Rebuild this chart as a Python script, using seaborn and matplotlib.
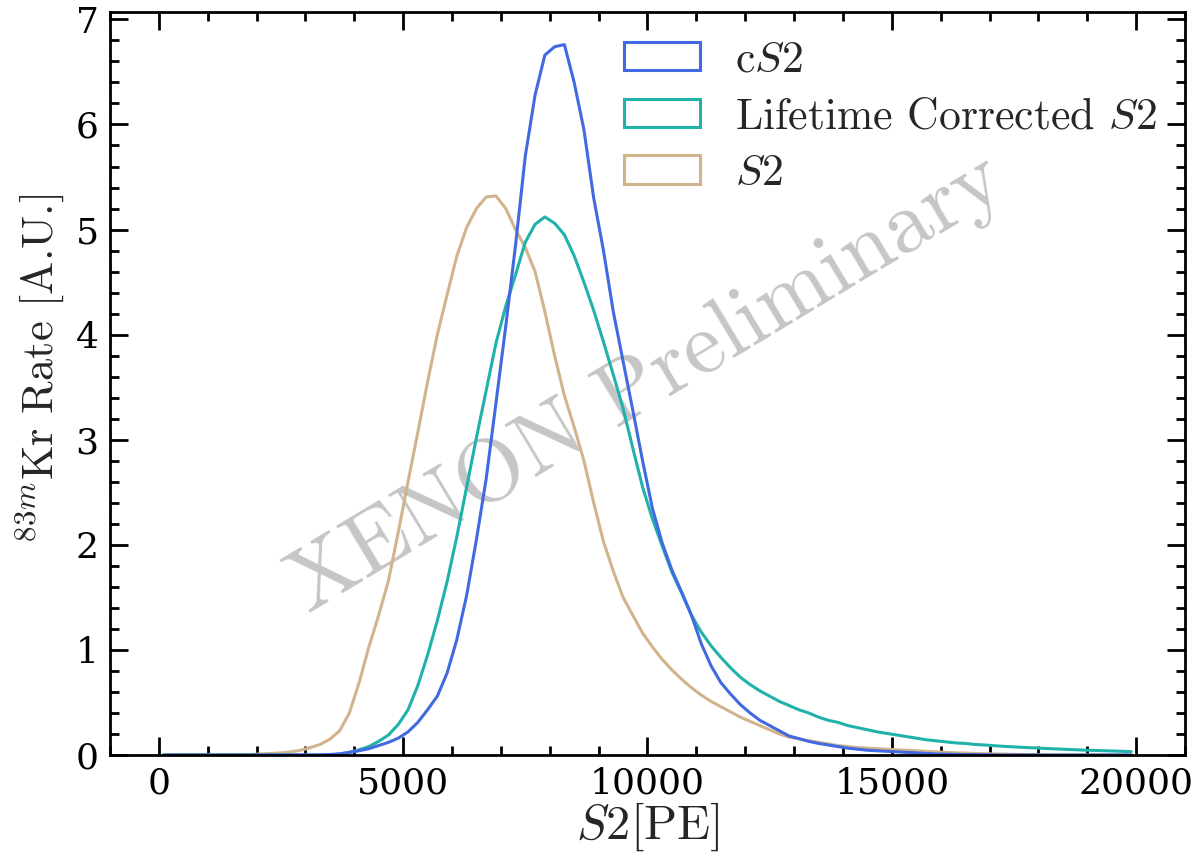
import numpy as np
import pandas as pd
import matplotlib
matplotlib.use("Agg")
import matplotlib.pyplot as plt
from matplotlib.ticker import MultipleLocator
from matplotlib.patches import Patch
import seaborn as sns

# ---------------- data ----------------
bin_width = 200
edges = np.arange(0, 20001, bin_width)
centers = edges[:-1] + bin_width / 2

labels = ["c$S2$", "Lifetime Corrected $S2$", "$S2$"]
colors = ["#4169E1", "#20B2AA", "#D2B48C"]

# cS2 (corrected S2)
cs2 = [0] * 17 + [
    0.005, 0.01, 0.025, 0.04, 0.06, 0.09, 0.12, 0.16, 0.22, 0.31,
    0.43, 0.56, 0.78, 1.10, 1.52, 2.05, 2.63, 3.35, 4.08, 4.85,
    5.70, 6.28, 6.66, 6.74, 6.76, 6.40, 5.95, 5.30, 4.80, 4.22,
    3.75, 3.28, 2.80, 2.35, 2.02, 1.76,
    1.55, 1.33, 1.06, 0.85, 0.69, 0.58, 0.48, 0.40, 0.33, 0.28,
    0.23, 0.18, 0.155, 0.13, 0.11, 0.095, 0.08, 0.065, 0.055, 0.045,
    0.04, 0.035, 0.03, 0.025, 0.02, 0.015, 0.01, 0.008, 0.006, 0.004,
    0.003, 0.002, 0.001,
] + [0] * 14

# Lifetime corrected S2
lt_s2 = [0] * 18 + [
    0.01, 0.025, 0.05, 0.08, 0.13, 0.19, 0.29, 0.43, 0.66, 0.95,
    1.28, 1.65, 2.08, 2.55, 3.02, 3.47, 3.92, 4.27, 4.57, 4.88,
    5.05, 5.12, 5.06, 4.95, 4.75, 4.50, 4.23, 3.93, 3.62, 3.30,
    2.92, 2.55,
    2.25, 1.99, 1.74, 1.54, 1.33, 1.17, 1.04, 0.93, 0.83, 0.74,
    0.67, 0.61, 0.56, 0.51, 0.47, 0.43, 0.40, 0.36, 0.33, 0.31,
    0.28, 0.26, 0.24, 0.22, 0.205, 0.19, 0.175, 0.16, 0.145, 0.135,
    0.125, 0.115, 0.11, 0.10, 0.095, 0.088, 0.082, 0.077, 0.072, 0.068,
    0.063, 0.059, 0.055, 0.051, 0.047, 0.044, 0.041, 0.038, 0.035, 0.032,
]

# raw S2
s2 = [0] * 9 + [
    0.005, 0.01, 0.015, 0.02, 0.03, 0.045, 0.07, 0.10, 0.15, 0.23,
    0.40, 0.69, 1.03, 1.33, 1.66, 2.12, 2.60, 3.07, 3.55, 4.00,
    4.38, 4.75, 5.02, 5.20, 5.31, 5.32, 5.20, 5.00, 4.83, 4.60,
    4.22, 3.80, 3.42, 3.12, 2.80, 2.40, 2.03, 1.75, 1.50, 1.33,
    1.16,
    1.03, 0.91, 0.81, 0.72, 0.64, 0.57, 0.51, 0.46, 0.41, 0.36,
    0.32, 0.28, 0.24, 0.20, 0.17, 0.155, 0.135, 0.12, 0.105, 0.09,
    0.08, 0.07, 0.065, 0.06, 0.055, 0.05, 0.045, 0.04, 0.035, 0.03,
    0.025, 0.02, 0.018, 0.015, 0.012, 0.01, 0.008, 0.006, 0.004, 0.002,
] + [0] * 10

series = [cs2, lt_s2, s2]

df = pd.concat(
    [pd.DataFrame({"s2": centers, "rate": vals, "label": lab})
     for vals, lab in zip(series, labels)],
    ignore_index=True,
)

# ---------------- style ----------------
sns.set_theme(style="ticks")
plt.rcParams["font.family"] = ["DejaVu Serif"]
plt.rcParams["mathtext.fontset"] = "cm"
plt.rcParams["axes.unicode_minus"] = False

CM = "cmr10"
LW = 2.2

fig = plt.figure(figsize=(11.99, 8.59), dpi=100)
ax = fig.add_axes([0.0917, 0.1211, 0.8966, 0.8649])

sns.histplot(
    data=df, x="s2", weights="rate", hue="label", hue_order=labels,
    palette=colors, bins=len(centers), binrange=(edges[0], edges[-1]),
    element="poly", fill=False, linewidth=LW, legend=False, ax=ax,
)

ax.set_xlim(-1000, 21000)
ax.set_ylim(0, 7.07)
ax.xaxis.set_major_locator(MultipleLocator(5000))
ax.xaxis.set_minor_locator(MultipleLocator(1000))
ax.yaxis.set_major_locator(MultipleLocator(1))
ax.yaxis.set_minor_locator(MultipleLocator(0.2))
ax.tick_params(which="both", direction="in", top=True, right=True,
               width=2, colors="black", labelsize=26)
ax.tick_params(which="major", length=13, pad=8)
ax.tick_params(which="minor", length=6.5)
for sp in ax.spines.values():
    sp.set_linewidth(2)
    sp.set_color("black")

ax.set_xlabel("$S2$[PE]", fontsize=35, family=CM, labelpad=0)
ax.set_ylabel("$^{83m}$Kr Rate [A.U.]", fontsize=32, family=CM, labelpad=6)
ax.yaxis.label.set_y(0.52)

ax.text(0.5, 0.5, "XENON Preliminary", transform=ax.transAxes,
        rotation=31, fontsize=64, family=CM, color="#c6c6c6", ha="center",
        va="center", zorder=0)

handles = [Patch(facecolor="none", edgecolor=c, linewidth=LW) for c in colors]
ax.legend(handles, labels, loc="upper right", frameon=False,
          prop={"family": CM, "size": 31.5}, handlelength=1.74,
          handleheight=0.62, labelspacing=0.38, handletextpad=0.78,
          borderaxespad=0.25)

fig.savefig("out.png", dpi=100)
